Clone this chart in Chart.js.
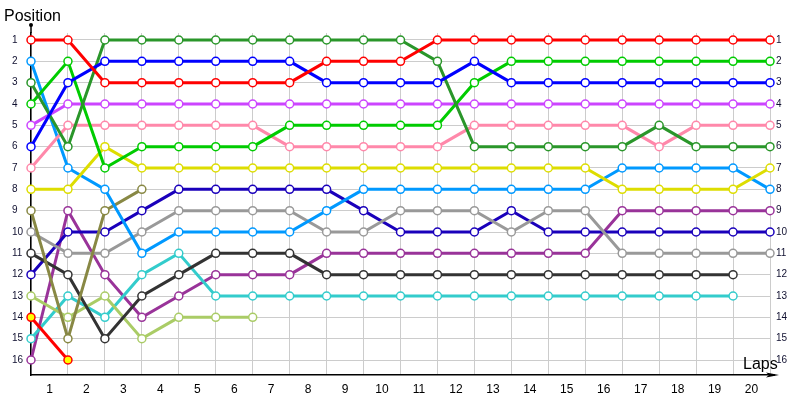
<!DOCTYPE html>
<html>
<head>
<meta charset="utf-8">
<script src="https://cdn.jsdelivr.net/npm/chart.js"></script>
<style>
  body { margin: 0; background: #fff; }
  #wrap { position: relative; width: 800px; height: 400px; }
  .axisTitle {
    position: absolute;
    font-family: "Liberation Sans", sans-serif;
    font-size: 16px;
    line-height: 16px;
    color: #000;
  }
</style>
</head>
<body>
<div id="wrap">
  <canvas id="chart"></canvas>
  <div class="axisTitle" style="left:4px;top:8px">Position</div>
  <div class="axisTitle" style="left:743px;top:356px">Laps</div>
</div>
<script>
// lap points (0 = start grid)
const laps = [0, 1, 2, 3, 4, 5, 6, 7, 8, 9, 10, 11, 12, 13, 14, 15, 16, 17, 18, 19, 20];
const xLabels = ["1", "2", "3", "4", "5", "6", "7", "8", "9", "10",
  "11", "12", "13", "14", "15", "16", "17", "18", "19", "20"];
const yTicks = [1, 2, 3, 4, 5, 6, 7, 8, 9, 10, 11, 12, 13, 14, 15, 16];

// positions per car
const redPos = [1, 1, 3, 3, 3, 3, 3, 3, 2, 2, 2, 1, 1, 1, 1, 1, 1, 1, 1, 1, 1];
const bluePos = [6, 3, 2, 2, 2, 2, 2, 2, 3, 3, 3, 3, 2, 3, 3, 3, 3, 3, 3, 3, 3];
const darkGreenPos = [3, 6, 1, 1, 1, 1, 1, 1, 1, 1, 1, 2, 6, 6, 6, 6, 6, 5, 6, 6, 6];
const greenPos = [4, 2, 7, 6, 6, 6, 6, 5, 5, 5, 5, 5, 3, 2, 2, 2, 2, 2, 2, 2, 2];
const violetPos = [5, 4, 4, 4, 4, 4, 4, 4, 4, 4, 4, 4, 4, 4, 4, 4, 4, 4, 4, 4, 4];
const pinkPos = [7, 5, 5, 5, 5, 5, 5, 6, 6, 6, 6, 6, 5, 5, 5, 5, 5, 6, 5, 5, 5];
const yellowPos = [8, 8, 6, 7, 7, 7, 7, 7, 7, 7, 7, 7, 7, 7, 7, 7, 8, 8, 8, 8, 7];
const skyPos = [2, 7, 8, 11, 10, 10, 10, 10, 9, 8, 8, 8, 8, 8, 8, 8, 7, 7, 7, 7, 8];
const olivePos = [9, 15, 9, 8];
const grayPos = [10, 11, 11, 10, 9, 9, 9, 9, 10, 10, 9, 9, 9, 10, 9, 9, 11, 11, 11, 11, 11];
const blackPos = [11, 12, 15, 13, 12, 11, 11, 11, 12, 12, 12, 12, 12, 12, 12, 12, 12, 12, 12, 12];
const navyPos = [12, 10, 10, 9, 8, 8, 8, 8, 8, 9, 10, 10, 10, 9, 10, 10, 10, 10, 10, 10, 10];
const limePos = [13, 14, 13, 15, 14, 14, 14];
const redYellowPos = [14, 16];
const cyanPos = [15, 13, 14, 12, 11, 13, 13, 13, 13, 13, 13, 13, 13, 13, 13, 13, 13, 13, 13, 13];
const purplePos = [16, 9, 12, 14, 13, 12, 12, 12, 11, 11, 11, 11, 11, 11, 11, 11, 9, 9, 9, 9, 9];

const cars = [
  { data: redPos, color: "#ff0000" },
  { data: bluePos, color: "#0000ff" },
  { data: darkGreenPos, color: "#2a962a" },
  { data: greenPos, color: "#00cc00" },
  { data: violetPos, color: "#cc44ff" },
  { data: pinkPos, color: "#ff88aa" },
  { data: yellowPos, color: "#dddd00" },
  { data: skyPos, color: "#0099ff" },
  { data: olivePos, color: "#888844" },
  { data: grayPos, color: "#999999" },
  { data: blackPos, color: "#333333" },
  { data: navyPos, color: "#1a00bb" },
  { data: limePos, color: "#aacc66" },
  { data: redYellowPos, color: "#ff0000", fill: "#ffff00" },
  { data: cyanPos, color: "#33cccc" },
  { data: purplePos, color: "#993399" },
];

function toPoints(arr) {
  return arr.map((v, i) => ({ x: laps[i], y: v }));
}

const datasets = cars.map((c, i) => ({
  label: "Car " + (i + 1),
  data: toPoints(c.data),
  borderColor: c.color,
  borderWidth: 3,
  pointRadius: 4,
  pointBorderWidth: 1.5,
  pointBorderColor: c.color,
  pointBackgroundColor: c.fill || "#ffffff",
  tension: 0,
  clip: false,
}));

// extended axis ends (dot on top, arrow on the right)
const axisEnds = {
  id: "axisEnds",
  afterDraw(chart) {
    const { ctx, chartArea } = chart;
    const { left, top, right, bottom } = chartArea;
    ctx.save();
    ctx.strokeStyle = "#000";
    ctx.fillStyle = "#000";
    ctx.lineWidth = 1.5;
    ctx.beginPath();
    ctx.moveTo(left, top);
    ctx.lineTo(left, 25);
    ctx.moveTo(right, bottom);
    ctx.lineTo(775, bottom);
    ctx.stroke();
    ctx.beginPath();
    ctx.arc(left, 25, 2, 0, Math.PI * 2);
    ctx.fill();
    ctx.beginPath();
    ctx.moveTo(779, bottom);
    ctx.lineTo(766, bottom - 2.5);
    ctx.lineTo(769, bottom);
    ctx.lineTo(766, bottom + 2.5);
    ctx.closePath();
    ctx.fill();
    ctx.restore();
  },
};

const yScale = {
  type: "linear",
  reverse: true,
  min: 0.672,
  max: 16.703,
  afterBuildTicks: (scale) => {
    scale.ticks = yTicks.map((v) => ({ value: v }));
  },
};

new Chart(document.getElementById("chart"), {
  type: "line",
  data: { datasets: datasets },
  options: {
    responsive: true,
    maintainAspectRatio: false,
    animation: false,
    layout: { padding: { top: 33, left: 12, right: 0, bottom: 0 } },
    plugins: {
      legend: { display: false },
      tooltip: { enabled: false },
    },
    scales: {
      x: {
        type: "linear",
        min: 0,
        max: 20,
        afterBuildTicks: (scale) => {
          const grid = laps.map((v) => ({ value: v }));
          const labels = laps.slice(1).map((v) => ({ value: v - 0.5 }));
          scale.ticks = grid.concat(labels).sort((a, b) => a.value - b.value);
        },
        afterFit: (scale) => { scale.height = 25; },
        grid: {
          color: (ctx) => (Number.isInteger(ctx.tick.value) ? "#cccccc" : "rgba(0,0,0,0)"),
          drawTicks: false,
        },
        border: { color: "#000", width: 1.5 },
        ticks: {
          autoSkip: false,
          maxRotation: 0,
          padding: 7,
          color: "#000",
          font: { family: "Liberation Sans", size: 12 },
          callback: (v) => (Number.isInteger(v) ? "" : xLabels[Math.floor(v)]),
        },
      },
      y: {
        ...yScale,
        position: "left",
        afterFit: (scale) => { scale.width = 19; },
        grid: { color: "#cccccc", drawTicks: false },
        border: { color: "#000", width: 1.5 },
        ticks: {
          crossAlign: "far",
          padding: 4,
          color: "#101030",
          font: { family: "Liberation Sans", size: 10 },
        },
      },
      y2: {
        ...yScale,
        position: "right",
        afterFit: (scale) => { scale.width = 30; },
        grid: { display: false, drawTicks: false },
        border: { display: false },
        ticks: {
          padding: 6,
          color: "#101030",
          font: { family: "Liberation Sans", size: 10 },
        },
      },
    },
  },
  plugins: [axisEnds],
});
</script>
</body>
</html>
